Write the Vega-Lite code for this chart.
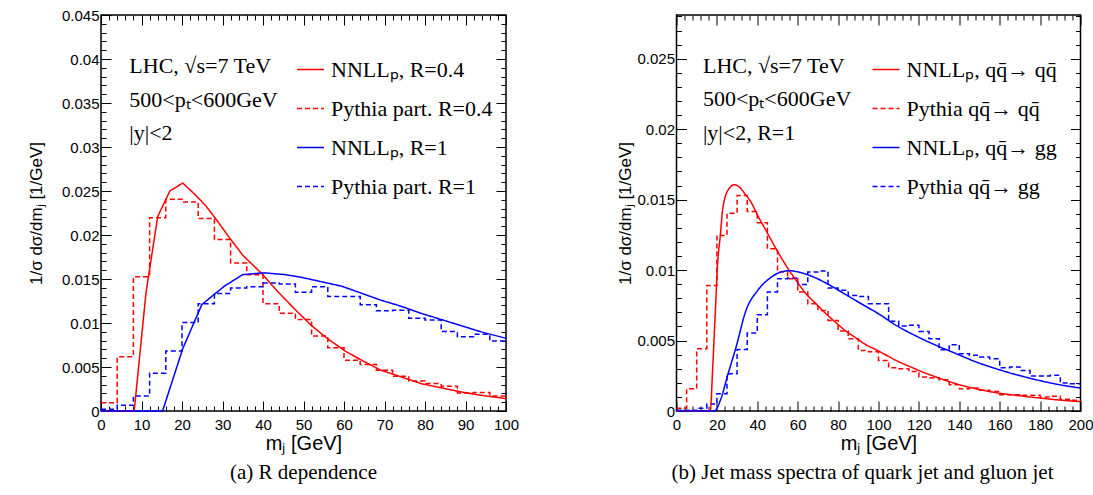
{
  "$schema": "https://vega.github.io/schema/vega-lite/v6.json",
  "padding": {"left": 26, "top": 7, "right": 0, "bottom": 0},
  "spacing": 95.5,
  "datasets": {
    "a_curve": [
      {"s": "NNLLₚ, R=0.4", "m": 0, "v": 0}, {"s": "NNLLₚ, R=0.4", "m": 8.2, "v": 0}, {"s": "NNLLₚ, R=0.4", "m": 11.1, "v": 0.0134}, {"s": "NNLLₚ, R=0.4", "m": 14.0, "v": 0.0221}, {"s": "NNLLₚ, R=0.4", "m": 17.0, "v": 0.025}, {"s": "NNLLₚ, R=0.4", "m": 20.2, "v": 0.0259}, {"s": "NNLLₚ, R=0.4", "m": 23.2, "v": 0.0246}, {"s": "NNLLₚ, R=0.4", "m": 25.9, "v": 0.0233}, {"s": "NNLLₚ, R=0.4", "m": 28.4, "v": 0.0218}, {"s": "NNLLₚ, R=0.4", "m": 31.7, "v": 0.0197}, {"s": "NNLLₚ, R=0.4", "m": 35.0, "v": 0.0177}, {"s": "NNLLₚ, R=0.4", "m": 39.5, "v": 0.0157}, {"s": "NNLLₚ, R=0.4", "m": 44, "v": 0.0134}, {"s": "NNLLₚ, R=0.4", "m": 48, "v": 0.0115}, {"s": "NNLLₚ, R=0.4", "m": 52, "v": 0.0097}, {"s": "NNLLₚ, R=0.4", "m": 56, "v": 0.0082}, {"s": "NNLLₚ, R=0.4", "m": 60, "v": 0.0069}, {"s": "NNLLₚ, R=0.4", "m": 64.2, "v": 0.0058}, {"s": "NNLLₚ, R=0.4", "m": 69.1, "v": 0.00464}, {"s": "NNLLₚ, R=0.4", "m": 74.1, "v": 0.00388}, {"s": "NNLLₚ, R=0.4", "m": 79, "v": 0.00312}, {"s": "NNLLₚ, R=0.4", "m": 84, "v": 0.00263}, {"s": "NNLLₚ, R=0.4", "m": 88.9, "v": 0.00217}, {"s": "NNLLₚ, R=0.4", "m": 93.8, "v": 0.00179}, {"s": "NNLLₚ, R=0.4", "m": 100, "v": 0.00141},
      {"s": "NNLLₚ, R=1", "m": 0, "v": 0}, {"s": "NNLLₚ, R=1", "m": 15.2, "v": 0}, {"s": "NNLLₚ, R=1", "m": 20.2, "v": 0.0071}, {"s": "NNLLₚ, R=1", "m": 24.9, "v": 0.0121}, {"s": "NNLLₚ, R=1", "m": 30.5, "v": 0.0142}, {"s": "NNLLₚ, R=1", "m": 35.0, "v": 0.0155}, {"s": "NNLLₚ, R=1", "m": 40.3, "v": 0.0157}, {"s": "NNLLₚ, R=1", "m": 45.4, "v": 0.0155}, {"s": "NNLLₚ, R=1", "m": 49.4, "v": 0.0152}, {"s": "NNLLₚ, R=1", "m": 54.3, "v": 0.0147}, {"s": "NNLLₚ, R=1", "m": 59.3, "v": 0.0142}, {"s": "NNLLₚ, R=1", "m": 64.2, "v": 0.0134}, {"s": "NNLLₚ, R=1", "m": 69.1, "v": 0.0126}, {"s": "NNLLₚ, R=1", "m": 74.1, "v": 0.0119}, {"s": "NNLLₚ, R=1", "m": 79, "v": 0.0111}, {"s": "NNLLₚ, R=1", "m": 84, "v": 0.0104}, {"s": "NNLLₚ, R=1", "m": 88.9, "v": 0.0097}, {"s": "NNLLₚ, R=1", "m": 93.8, "v": 0.009}, {"s": "NNLLₚ, R=1", "m": 100, "v": 0.00826}
    ],
    "a_hist": [
      {"s": "Pythia part. R=0.4", "m": 0, "v": 0.00095}, {"s": "Pythia part. R=0.4", "m": 4, "v": 0.00616}, {"s": "Pythia part. R=0.4", "m": 8, "v": 0.01526}, {"s": "Pythia part. R=0.4", "m": 12, "v": 0.02196}, {"s": "Pythia part. R=0.4", "m": 16, "v": 0.02405}, {"s": "Pythia part. R=0.4", "m": 20, "v": 0.02374}, {"s": "Pythia part. R=0.4", "m": 24, "v": 0.02188}, {"s": "Pythia part. R=0.4", "m": 28, "v": 0.01948}, {"s": "Pythia part. R=0.4", "m": 32, "v": 0.01682}, {"s": "Pythia part. R=0.4", "m": 36, "v": 0.01549}, {"s": "Pythia part. R=0.4", "m": 40, "v": 0.01218}, {"s": "Pythia part. R=0.4", "m": 44, "v": 0.01111}, {"s": "Pythia part. R=0.4", "m": 48, "v": 0.0104}, {"s": "Pythia part. R=0.4", "m": 52, "v": 0.00852}, {"s": "Pythia part. R=0.4", "m": 56, "v": 0.00719}, {"s": "Pythia part. R=0.4", "m": 60, "v": 0.00578}, {"s": "Pythia part. R=0.4", "m": 64, "v": 0.00529}, {"s": "Pythia part. R=0.4", "m": 68, "v": 0.00464}, {"s": "Pythia part. R=0.4", "m": 72, "v": 0.00396}, {"s": "Pythia part. R=0.4", "m": 76, "v": 0.00342}, {"s": "Pythia part. R=0.4", "m": 80, "v": 0.00312}, {"s": "Pythia part. R=0.4", "m": 84, "v": 0.00282}, {"s": "Pythia part. R=0.4", "m": 88, "v": 0.00205}, {"s": "Pythia part. R=0.4", "m": 92, "v": 0.00209}, {"s": "Pythia part. R=0.4", "m": 96, "v": 0.00171}, {"s": "Pythia part. R=0.4", "m": 100, "v": 0.00171},
      {"s": "Pythia part. R=1", "m": 0, "v": 0.0002}, {"s": "Pythia part. R=1", "m": 4, "v": 0.00065}, {"s": "Pythia part. R=1", "m": 8, "v": 0.00171}, {"s": "Pythia part. R=1", "m": 12, "v": 0.0043}, {"s": "Pythia part. R=1", "m": 16, "v": 0.00681}, {"s": "Pythia part. R=1", "m": 20, "v": 0.01005}, {"s": "Pythia part. R=1", "m": 24, "v": 0.01218}, {"s": "Pythia part. R=1", "m": 28, "v": 0.01336}, {"s": "Pythia part. R=1", "m": 32, "v": 0.01397}, {"s": "Pythia part. R=1", "m": 36, "v": 0.01412}, {"s": "Pythia part. R=1", "m": 40, "v": 0.01454}, {"s": "Pythia part. R=1", "m": 44, "v": 0.01442}, {"s": "Pythia part. R=1", "m": 48, "v": 0.01349}, {"s": "Pythia part. R=1", "m": 52, "v": 0.01412}, {"s": "Pythia part. R=1", "m": 56, "v": 0.01301}, {"s": "Pythia part. R=1", "m": 60, "v": 0.01301}, {"s": "Pythia part. R=1", "m": 64, "v": 0.01206}, {"s": "Pythia part. R=1", "m": 68, "v": 0.01138}, {"s": "Pythia part. R=1", "m": 72, "v": 0.01145}, {"s": "Pythia part. R=1", "m": 76, "v": 0.01054}, {"s": "Pythia part. R=1", "m": 80, "v": 0.01035}, {"s": "Pythia part. R=1", "m": 84, "v": 0.00902}, {"s": "Pythia part. R=1", "m": 88, "v": 0.00845}, {"s": "Pythia part. R=1", "m": 92, "v": 0.00871}, {"s": "Pythia part. R=1", "m": 96, "v": 0.00795}, {"s": "Pythia part. R=1", "m": 100, "v": 0.00795}
    ],
    "b_curve": [
      {"s": "NNLLₚ, qq̄→ qq̄", "m": 0, "v": 0}, {"s": "NNLLₚ, qq̄→ qq̄", "m": 16.7, "v": 0}, {"s": "NNLLₚ, qq̄→ qq̄", "m": 17.9, "v": 0.003}, {"s": "NNLLₚ, qq̄→ qq̄", "m": 19.2, "v": 0.007}, {"s": "NNLLₚ, qq̄→ qq̄", "m": 20.4, "v": 0.01057}, {"s": "NNLLₚ, qq̄→ qq̄", "m": 21.7, "v": 0.01246}, {"s": "NNLLₚ, qq̄→ qq̄", "m": 22.9, "v": 0.01435}, {"s": "NNLLₚ, qq̄→ qq̄", "m": 25.7, "v": 0.01572}, {"s": "NNLLₚ, qq̄→ qq̄", "m": 28.6, "v": 0.01605}, {"s": "NNLLₚ, qq̄→ qq̄", "m": 31.1, "v": 0.01589}, {"s": "NNLLₚ, qq̄→ qq̄", "m": 33.9, "v": 0.01541}, {"s": "NNLLₚ, qq̄→ qq̄", "m": 36.9, "v": 0.01482}, {"s": "NNLLₚ, qq̄→ qq̄", "m": 40.2, "v": 0.01388}, {"s": "NNLLₚ, qq̄→ qq̄", "m": 44.3, "v": 0.01281}, {"s": "NNLLₚ, qq̄→ qq̄", "m": 49.3, "v": 0.01151}, {"s": "NNLLₚ, qq̄→ qq̄", "m": 54.2, "v": 0.01033}, {"s": "NNLLₚ, qq̄→ qq̄", "m": 59.2, "v": 0.00927}, {"s": "NNLLₚ, qq̄→ qq̄", "m": 64.1, "v": 0.00832}, {"s": "NNLLₚ, qq̄→ qq̄", "m": 69.1, "v": 0.00761}, {"s": "NNLLₚ, qq̄→ qq̄", "m": 74, "v": 0.0069}, {"s": "NNLLₚ, qq̄→ qq̄", "m": 79, "v": 0.00626}, {"s": "NNLLₚ, qq̄→ qq̄", "m": 83.9, "v": 0.00567}, {"s": "NNLLₚ, qq̄→ qq̄", "m": 88.9, "v": 0.00518}, {"s": "NNLLₚ, qq̄→ qq̄", "m": 93.8, "v": 0.0047}, {"s": "NNLLₚ, qq̄→ qq̄", "m": 98.8, "v": 0.00435}, {"s": "NNLLₚ, qq̄→ qq̄", "m": 108.7, "v": 0.00359}, {"s": "NNLLₚ, qq̄→ qq̄", "m": 118.6, "v": 0.00296}, {"s": "NNLLₚ, qq̄→ qq̄", "m": 128.5, "v": 0.00241}, {"s": "NNLLₚ, qq̄→ qq̄", "m": 138.4, "v": 0.00194}, {"s": "NNLLₚ, qq̄→ qq̄", "m": 148.3, "v": 0.00158}, {"s": "NNLLₚ, qq̄→ qq̄", "m": 158.2, "v": 0.0013}, {"s": "NNLLₚ, qq̄→ qq̄", "m": 168.1, "v": 0.00111}, {"s": "NNLLₚ, qq̄→ qq̄", "m": 178, "v": 0.00095}, {"s": "NNLLₚ, qq̄→ qq̄", "m": 187.9, "v": 0.0008}, {"s": "NNLLₚ, qq̄→ qq̄", "m": 200, "v": 0.00066},
      {"s": "NNLLₚ, qq̄→ gg", "m": 0, "v": 0}, {"s": "NNLLₚ, qq̄→ gg", "m": 18.7, "v": 0}, {"s": "NNLLₚ, qq̄→ gg", "m": 22, "v": 0.00087}, {"s": "NNLLₚ, qq̄→ gg", "m": 25.3, "v": 0.00253}, {"s": "NNLLₚ, qq̄→ gg", "m": 29.5, "v": 0.00454}, {"s": "NNLLₚ, qq̄→ gg", "m": 34.4, "v": 0.00714}, {"s": "NNLLₚ, qq̄→ gg", "m": 40.2, "v": 0.00856}, {"s": "NNLLₚ, qq̄→ gg", "m": 45.9, "v": 0.00939}, {"s": "NNLLₚ, qq̄→ gg", "m": 51.7, "v": 0.00986}, {"s": "NNLLₚ, qq̄→ gg", "m": 56, "v": 0.00995}, {"s": "NNLLₚ, qq̄→ gg", "m": 62, "v": 0.0098}, {"s": "NNLLₚ, qq̄→ gg", "m": 68, "v": 0.0095}, {"s": "NNLLₚ, qq̄→ gg", "m": 75, "v": 0.009}, {"s": "NNLLₚ, qq̄→ gg", "m": 81, "v": 0.0085}, {"s": "NNLLₚ, qq̄→ gg", "m": 88, "v": 0.0079}, {"s": "NNLLₚ, qq̄→ gg", "m": 94, "v": 0.0074}, {"s": "NNLLₚ, qq̄→ gg", "m": 100, "v": 0.0069}, {"s": "NNLLₚ, qq̄→ gg", "m": 108.7, "v": 0.00608}, {"s": "NNLLₚ, qq̄→ gg", "m": 118.6, "v": 0.00532}, {"s": "NNLLₚ, qq̄→ gg", "m": 128.5, "v": 0.00466}, {"s": "NNLLₚ, qq̄→ gg", "m": 138.4, "v": 0.00407}, {"s": "NNLLₚ, qq̄→ gg", "m": 148.3, "v": 0.00348}, {"s": "NNLLₚ, qq̄→ gg", "m": 158.2, "v": 0.003}, {"s": "NNLLₚ, qq̄→ gg", "m": 168.1, "v": 0.00258}, {"s": "NNLLₚ, qq̄→ gg", "m": 178, "v": 0.00222}, {"s": "NNLLₚ, qq̄→ gg", "m": 187.9, "v": 0.00191}, {"s": "NNLLₚ, qq̄→ gg", "m": 200, "v": 0.00163}
    ],
    "b_hist": [
      {"s": "Pythia qq̄→ qq̄", "m": 0, "v": 0.0002}, {"s": "Pythia qq̄→ qq̄", "m": 5, "v": 0.00158}, {"s": "Pythia qq̄→ qq̄", "m": 10, "v": 0.00442}, {"s": "Pythia qq̄→ qq̄", "m": 15, "v": 0.00891}, {"s": "Pythia qq̄→ qq̄", "m": 20, "v": 0.01246}, {"s": "Pythia qq̄→ qq̄", "m": 25, "v": 0.01404}, {"s": "Pythia qq̄→ qq̄", "m": 30, "v": 0.0153}, {"s": "Pythia qq̄→ qq̄", "m": 35, "v": 0.01416}, {"s": "Pythia qq̄→ qq̄", "m": 40, "v": 0.01336}, {"s": "Pythia qq̄→ qq̄", "m": 45, "v": 0.01151}, {"s": "Pythia qq̄→ qq̄", "m": 50, "v": 0.00986}, {"s": "Pythia qq̄→ qq̄", "m": 55, "v": 0.00939}, {"s": "Pythia qq̄→ qq̄", "m": 60, "v": 0.00844}, {"s": "Pythia qq̄→ qq̄", "m": 65, "v": 0.00761}, {"s": "Pythia qq̄→ qq̄", "m": 70, "v": 0.00714}, {"s": "Pythia qq̄→ qq̄", "m": 75, "v": 0.00643}, {"s": "Pythia qq̄→ qq̄", "m": 80, "v": 0.00567}, {"s": "Pythia qq̄→ qq̄", "m": 85, "v": 0.00513}, {"s": "Pythia qq̄→ qq̄", "m": 90, "v": 0.0043}, {"s": "Pythia qq̄→ qq̄", "m": 95, "v": 0.0042}, {"s": "Pythia qq̄→ qq̄", "m": 100, "v": 0.00359}, {"s": "Pythia qq̄→ qq̄", "m": 105, "v": 0.00307}, {"s": "Pythia qq̄→ qq̄", "m": 110, "v": 0.003}, {"s": "Pythia qq̄→ qq̄", "m": 115, "v": 0.00281}, {"s": "Pythia qq̄→ qq̄", "m": 120, "v": 0.00241}, {"s": "Pythia qq̄→ qq̄", "m": 125, "v": 0.00236}, {"s": "Pythia qq̄→ qq̄", "m": 130, "v": 0.00222}, {"s": "Pythia qq̄→ qq̄", "m": 135, "v": 0.00187}, {"s": "Pythia qq̄→ qq̄", "m": 140, "v": 0.00158}, {"s": "Pythia qq̄→ qq̄", "m": 145, "v": 0.00163}, {"s": "Pythia qq̄→ qq̄", "m": 150, "v": 0.00147}, {"s": "Pythia qq̄→ qq̄", "m": 155, "v": 0.00139}, {"s": "Pythia qq̄→ qq̄", "m": 160, "v": 0.00116}, {"s": "Pythia qq̄→ qq̄", "m": 165, "v": 0.00116}, {"s": "Pythia qq̄→ qq̄", "m": 170, "v": 0.00111}, {"s": "Pythia qq̄→ qq̄", "m": 175, "v": 0.00111}, {"s": "Pythia qq̄→ qq̄", "m": 180, "v": 0.00099}, {"s": "Pythia qq̄→ qq̄", "m": 185, "v": 0.00104}, {"s": "Pythia qq̄→ qq̄", "m": 190, "v": 0.00083}, {"s": "Pythia qq̄→ qq̄", "m": 195, "v": 0.00076}, {"s": "Pythia qq̄→ qq̄", "m": 200, "v": 0.00076},
      {"s": "Pythia qq̄→ gg", "m": 0, "v": 0.00005}, {"s": "Pythia qq̄→ gg", "m": 5, "v": 0.00005}, {"s": "Pythia qq̄→ gg", "m": 10, "v": 0.0002}, {"s": "Pythia qq̄→ gg", "m": 15, "v": 0.0005}, {"s": "Pythia qq̄→ gg", "m": 20, "v": 0.00123}, {"s": "Pythia qq̄→ gg", "m": 25, "v": 0.00265}, {"s": "Pythia qq̄→ gg", "m": 30, "v": 0.00437}, {"s": "Pythia qq̄→ gg", "m": 35, "v": 0.00553}, {"s": "Pythia qq̄→ gg", "m": 40, "v": 0.00683}, {"s": "Pythia qq̄→ gg", "m": 45, "v": 0.00844}, {"s": "Pythia qq̄→ gg", "m": 50, "v": 0.00939}, {"s": "Pythia qq̄→ gg", "m": 55, "v": 0.00943}, {"s": "Pythia qq̄→ gg", "m": 60, "v": 0.00898}, {"s": "Pythia qq̄→ gg", "m": 65, "v": 0.00986}, {"s": "Pythia qq̄→ gg", "m": 70, "v": 0.00993}, {"s": "Pythia qq̄→ gg", "m": 75, "v": 0.00872}, {"s": "Pythia qq̄→ gg", "m": 80, "v": 0.00856}, {"s": "Pythia qq̄→ gg", "m": 85, "v": 0.0082}, {"s": "Pythia qq̄→ gg", "m": 90, "v": 0.00813}, {"s": "Pythia qq̄→ gg", "m": 95, "v": 0.00761}, {"s": "Pythia qq̄→ gg", "m": 100, "v": 0.00761}, {"s": "Pythia qq̄→ gg", "m": 105, "v": 0.00636}, {"s": "Pythia qq̄→ gg", "m": 110, "v": 0.00603}, {"s": "Pythia qq̄→ gg", "m": 115, "v": 0.00608}, {"s": "Pythia qq̄→ gg", "m": 120, "v": 0.00565}, {"s": "Pythia qq̄→ gg", "m": 125, "v": 0.00513}, {"s": "Pythia qq̄→ gg", "m": 130, "v": 0.00435}, {"s": "Pythia qq̄→ gg", "m": 135, "v": 0.0047}, {"s": "Pythia qq̄→ gg", "m": 140, "v": 0.00407}, {"s": "Pythia qq̄→ gg", "m": 145, "v": 0.00395}, {"s": "Pythia qq̄→ gg", "m": 150, "v": 0.00383}, {"s": "Pythia qq̄→ gg", "m": 155, "v": 0.00371}, {"s": "Pythia qq̄→ gg", "m": 160, "v": 0.00307}, {"s": "Pythia qq̄→ gg", "m": 165, "v": 0.00312}, {"s": "Pythia qq̄→ gg", "m": 170, "v": 0.00288}, {"s": "Pythia qq̄→ gg", "m": 175, "v": 0.00248}, {"s": "Pythia qq̄→ gg", "m": 180, "v": 0.00248}, {"s": "Pythia qq̄→ gg", "m": 185, "v": 0.00253}, {"s": "Pythia qq̄→ gg", "m": 190, "v": 0.00199}, {"s": "Pythia qq̄→ gg", "m": 195, "v": 0.00194}, {"s": "Pythia qq̄→ gg", "m": 200, "v": 0.00194}
    ]
  },
  "resolve": {"scale": {"color": "independent", "strokeDash": "independent", "x": "independent", "y": "independent"}, "legend": {"color": "independent", "strokeDash": "independent"}},
  "hconcat": [
    {
      "width": 405, "height": 396,
      "title": {"text": "(a) R dependence", "orient": "bottom", "anchor": "middle", "frame": "group", "offset": 9},
      "layer": [
        {
          "data": {"name": "a_hist"},
          "mark": {"type": "line", "interpolate": "step-after", "strokeWidth": 1.5},
          "encoding": {
            "x": {"field": "m", "type": "quantitative", "scale": {"domain": [0, 100], "nice": false, "zero": false},
                  "axis": {"orient": "bottom", "values": [0, 10, 20, 30, 40, 50, 60, 70, 80, 90, 100], "tickSize": -10, "labelPadding": 16, "labelFlush": false, "format": "d", "title": "mⱼ [GeV]", "titleFontSize": 20, "titlePadding": 1}},
            "y": {"field": "v", "type": "quantitative", "scale": {"domain": [0, 0.045], "nice": false, "zero": false},
                  "axis": {"orient": "left", "values": [0, 0.005, 0.01, 0.015, 0.02, 0.025, 0.03, 0.035, 0.04, 0.045], "tickSize": -10, "labelPadding": 12, "format": "~g", "title": "1/σ dσ/dmⱼ [1/GeV]", "titleFontSize": 17, "titlePadding": 16}},
            "color": {"field": "s", "type": "nominal", "scale": {"domain": ["NNLLₚ, R=0.4", "Pythia part. R=0.4", "NNLLₚ, R=1", "Pythia part. R=1"], "range": ["#ff0000", "#ff0000", "#0000ff", "#0000ff"]},
                      "legend": {"orient": "none", "legendX": 195, "legendY": 40, "title": null}},
            "strokeDash": {"field": "s", "type": "nominal", "scale": {"domain": ["NNLLₚ, R=0.4", "Pythia part. R=0.4", "NNLLₚ, R=1", "Pythia part. R=1"], "range": [[1, 0], [5, 3], [1, 0], [5, 3]]},
                      "legend": {"orient": "none", "legendX": 195, "legendY": 40, "title": null}}
          }
        },
        {
          "data": {"name": "a_curve"},
          "mark": {"type": "line", "strokeWidth": 1.5},
          "encoding": {
            "x": {"field": "m", "type": "quantitative", "axis": null},
            "y": {"field": "v", "type": "quantitative", "axis": null},
            "color": {"field": "s", "type": "nominal"},
            "strokeDash": {"field": "s", "type": "nominal"}
          }
        },
        {
          "data": {"values": [{}]},
          "mark": {"type": "text", "align": "left", "baseline": "top", "font": "Liberation Serif", "fontSize": 22, "lineHeight": 33.5, "color": "black"},
          "encoding": {
            "x": {"datum": 7, "type": "quantitative", "axis": null},
            "y": {"datum": 0.0403, "type": "quantitative", "axis": null},
            "text": {"value": ["LHC, √s=7 TeV", "500<pₜ<600GeV", "|y|<2"]}
          }
        },
        {
          "data": {"name": "a_curve"},
          "mark": {"type": "point", "opacity": 0},
          "encoding": {
            "x": {"field": "m", "type": "quantitative", "axis": {"orient": "bottom", "values": [2,4,6,8,12,14,16,18,22,24,26,28,32,34,36,38,42,44,46,48,52,54,56,58,62,64,66,68,72,74,76,78,82,84,86,88,92,94,96,98], "tickSize": -5, "labels": false, "title": null}},
            "y": {"field": "v", "type": "quantitative", "axis": {"orient": "left", "values": [0.001,0.002,0.003,0.004,0.006,0.007,0.008,0.009,0.011,0.012,0.013,0.014,0.016,0.017,0.018,0.019,0.021,0.022,0.023,0.024,0.026,0.027,0.028,0.029,0.031,0.032,0.033,0.034,0.036,0.037,0.038,0.039,0.041,0.042,0.043,0.044], "tickSize": -5, "labels": false, "title": null}}
          }
        },
        {
          "data": {"name": "a_curve"},
          "mark": {"type": "point", "opacity": 0},
          "encoding": {
            "x": {"field": "m", "type": "quantitative", "axis": {"orient": "top", "values": [0, 10, 20, 30, 40, 50, 60, 70, 80, 90, 100], "tickSize": -10, "labels": false, "title": null}},
            "y": {"field": "v", "type": "quantitative", "axis": {"orient": "right", "values": [0, 0.005, 0.01, 0.015, 0.02, 0.025, 0.03, 0.035, 0.04, 0.045], "tickSize": -10, "labels": false, "title": null}}
          }
        },
        {
          "data": {"name": "a_curve"},
          "mark": {"type": "point", "opacity": 0},
          "encoding": {
            "x": {"field": "m", "type": "quantitative", "axis": {"orient": "top", "values": [2,4,6,8,12,14,16,18,22,24,26,28,32,34,36,38,42,44,46,48,52,54,56,58,62,64,66,68,72,74,76,78,82,84,86,88,92,94,96,98], "tickSize": -5, "labels": false, "title": null}},
            "y": {"field": "v", "type": "quantitative", "axis": {"orient": "right", "values": [0.001,0.002,0.003,0.004,0.006,0.007,0.008,0.009,0.011,0.012,0.013,0.014,0.016,0.017,0.018,0.019,0.021,0.022,0.023,0.024,0.026,0.027,0.028,0.029,0.031,0.032,0.033,0.034,0.036,0.037,0.038,0.039,0.041,0.042,0.043,0.044], "tickSize": -5, "labels": false, "title": null}}
          }
        }
      ]
    },
    {
      "width": 404, "height": 396,
      "title": {"text": "(b) Jet mass spectra of quark jet and gluon jet", "orient": "bottom", "anchor": "middle", "frame": "group", "offset": 9, "dx": -16},
      "layer": [
        {
          "data": {"name": "b_hist"},
          "mark": {"type": "line", "interpolate": "step-after", "strokeWidth": 1.5},
          "encoding": {
            "x": {"field": "m", "type": "quantitative", "scale": {"domain": [0, 200], "nice": false, "zero": false},
                  "axis": {"orient": "bottom", "values": [0, 20, 40, 60, 80, 100, 120, 140, 160, 180, 200], "tickSize": -10, "labelPadding": 16, "labelFlush": false, "format": "d", "title": "mⱼ [GeV]", "titleFontSize": 20, "titlePadding": 1}},
            "y": {"field": "v", "type": "quantitative", "scale": {"domain": [0, 0.0281], "nice": false, "zero": false},
                  "axis": {"orient": "left", "values": [0, 0.005, 0.01, 0.015, 0.02, 0.025], "tickSize": -10, "labelPadding": 12, "format": "~g", "title": "1/σ dσ/dmⱼ [1/GeV]", "titleFontSize": 17, "titlePadding": 2}},
            "color": {"field": "s", "type": "nominal", "scale": {"domain": ["NNLLₚ, qq̄→ qq̄", "Pythia qq̄→ qq̄", "NNLLₚ, qq̄→ gg", "Pythia qq̄→ gg"], "range": ["#ff0000", "#ff0000", "#0000ff", "#0000ff"]},
                      "legend": {"orient": "none", "legendX": 195, "legendY": 40, "title": null}},
            "strokeDash": {"field": "s", "type": "nominal", "scale": {"domain": ["NNLLₚ, qq̄→ qq̄", "Pythia qq̄→ qq̄", "NNLLₚ, qq̄→ gg", "Pythia qq̄→ gg"], "range": [[1, 0], [5, 3], [1, 0], [5, 3]]},
                      "legend": {"orient": "none", "legendX": 195, "legendY": 40, "title": null}}
          }
        },
        {
          "data": {"name": "b_curve"},
          "mark": {"type": "line", "strokeWidth": 1.5, "interpolate": "monotone"},
          "encoding": {
            "x": {"field": "m", "type": "quantitative", "axis": null},
            "y": {"field": "v", "type": "quantitative", "axis": null},
            "color": {"field": "s", "type": "nominal"},
            "strokeDash": {"field": "s", "type": "nominal"}
          }
        },
        {
          "data": {"values": [{}]},
          "mark": {"type": "text", "align": "left", "baseline": "top", "font": "Liberation Serif", "fontSize": 22, "lineHeight": 33.5, "color": "black"},
          "encoding": {
            "x": {"datum": 13.1, "type": "quantitative", "axis": null},
            "y": {"datum": 0.02522, "type": "quantitative", "axis": null},
            "text": {"value": ["LHC, √s=7 TeV", "500<pₜ<600GeV", "|y|<2, R=1"]}
          }
        },
        {
          "data": {"name": "b_curve"},
          "mark": {"type": "point", "opacity": 0},
          "encoding": {
            "x": {"field": "m", "type": "quantitative", "axis": {"orient": "bottom", "values": [4,8,12,16,24,28,32,36,44,48,52,56,64,68,72,76,84,88,92,96,104,108,112,116,124,128,132,136,144,148,152,156,164,168,172,176,184,188,192,196], "tickSize": -5, "labels": false, "title": null}},
            "y": {"field": "v", "type": "quantitative", "axis": {"orient": "left", "values": [0.001,0.002,0.003,0.004,0.006,0.007,0.008,0.009,0.011,0.012,0.013,0.014,0.016,0.017,0.018,0.019,0.021,0.022,0.023,0.024,0.026,0.027,0.028], "tickSize": -5, "labels": false, "title": null}}
          }
        },
        {
          "data": {"name": "b_curve"},
          "mark": {"type": "point", "opacity": 0},
          "encoding": {
            "x": {"field": "m", "type": "quantitative", "axis": {"orient": "top", "values": [0, 20, 40, 60, 80, 100, 120, 140, 160, 180, 200], "tickSize": -10, "labels": false, "title": null}},
            "y": {"field": "v", "type": "quantitative", "axis": {"orient": "right", "values": [0, 0.005, 0.01, 0.015, 0.02, 0.025], "tickSize": -10, "labels": false, "title": null}}
          }
        },
        {
          "data": {"name": "b_curve"},
          "mark": {"type": "point", "opacity": 0},
          "encoding": {
            "x": {"field": "m", "type": "quantitative", "axis": {"orient": "top", "values": [4,8,12,16,24,28,32,36,44,48,52,56,64,68,72,76,84,88,92,96,104,108,112,116,124,128,132,136,144,148,152,156,164,168,172,176,184,188,192,196], "tickSize": -5, "labels": false, "title": null}},
            "y": {"field": "v", "type": "quantitative", "axis": {"orient": "right", "values": [0.001,0.002,0.003,0.004,0.006,0.007,0.008,0.009,0.011,0.012,0.013,0.014,0.016,0.017,0.018,0.019,0.021,0.022,0.023,0.024,0.026,0.027,0.028], "tickSize": -5, "labels": false, "title": null}}
          }
        }
      ]
    }
  ],
  "config": {
    "view": {"stroke": "black", "strokeWidth": 1.5},
    "axis": {"domain": false, "grid": false, "tickColor": "black", "tickWidth": 1, "labelColor": "black", "labelFont": "Liberation Sans", "labelFontSize": 15, "titleFont": "Liberation Sans", "titleColor": "black", "titleFontWeight": "normal"},
    "legend": {"labelFont": "Liberation Serif", "labelFontSize": 22, "labelColor": "black", "symbolType": "stroke", "symbolSize": 729, "symbolStrokeWidth": 1.5, "rowPadding": 13, "labelOffset": 6, "padding": 0, "labelLimit": 400},
    "title": {"font": "Liberation Serif", "fontSize": 21, "fontWeight": "normal", "color": "black"}
  }
}
